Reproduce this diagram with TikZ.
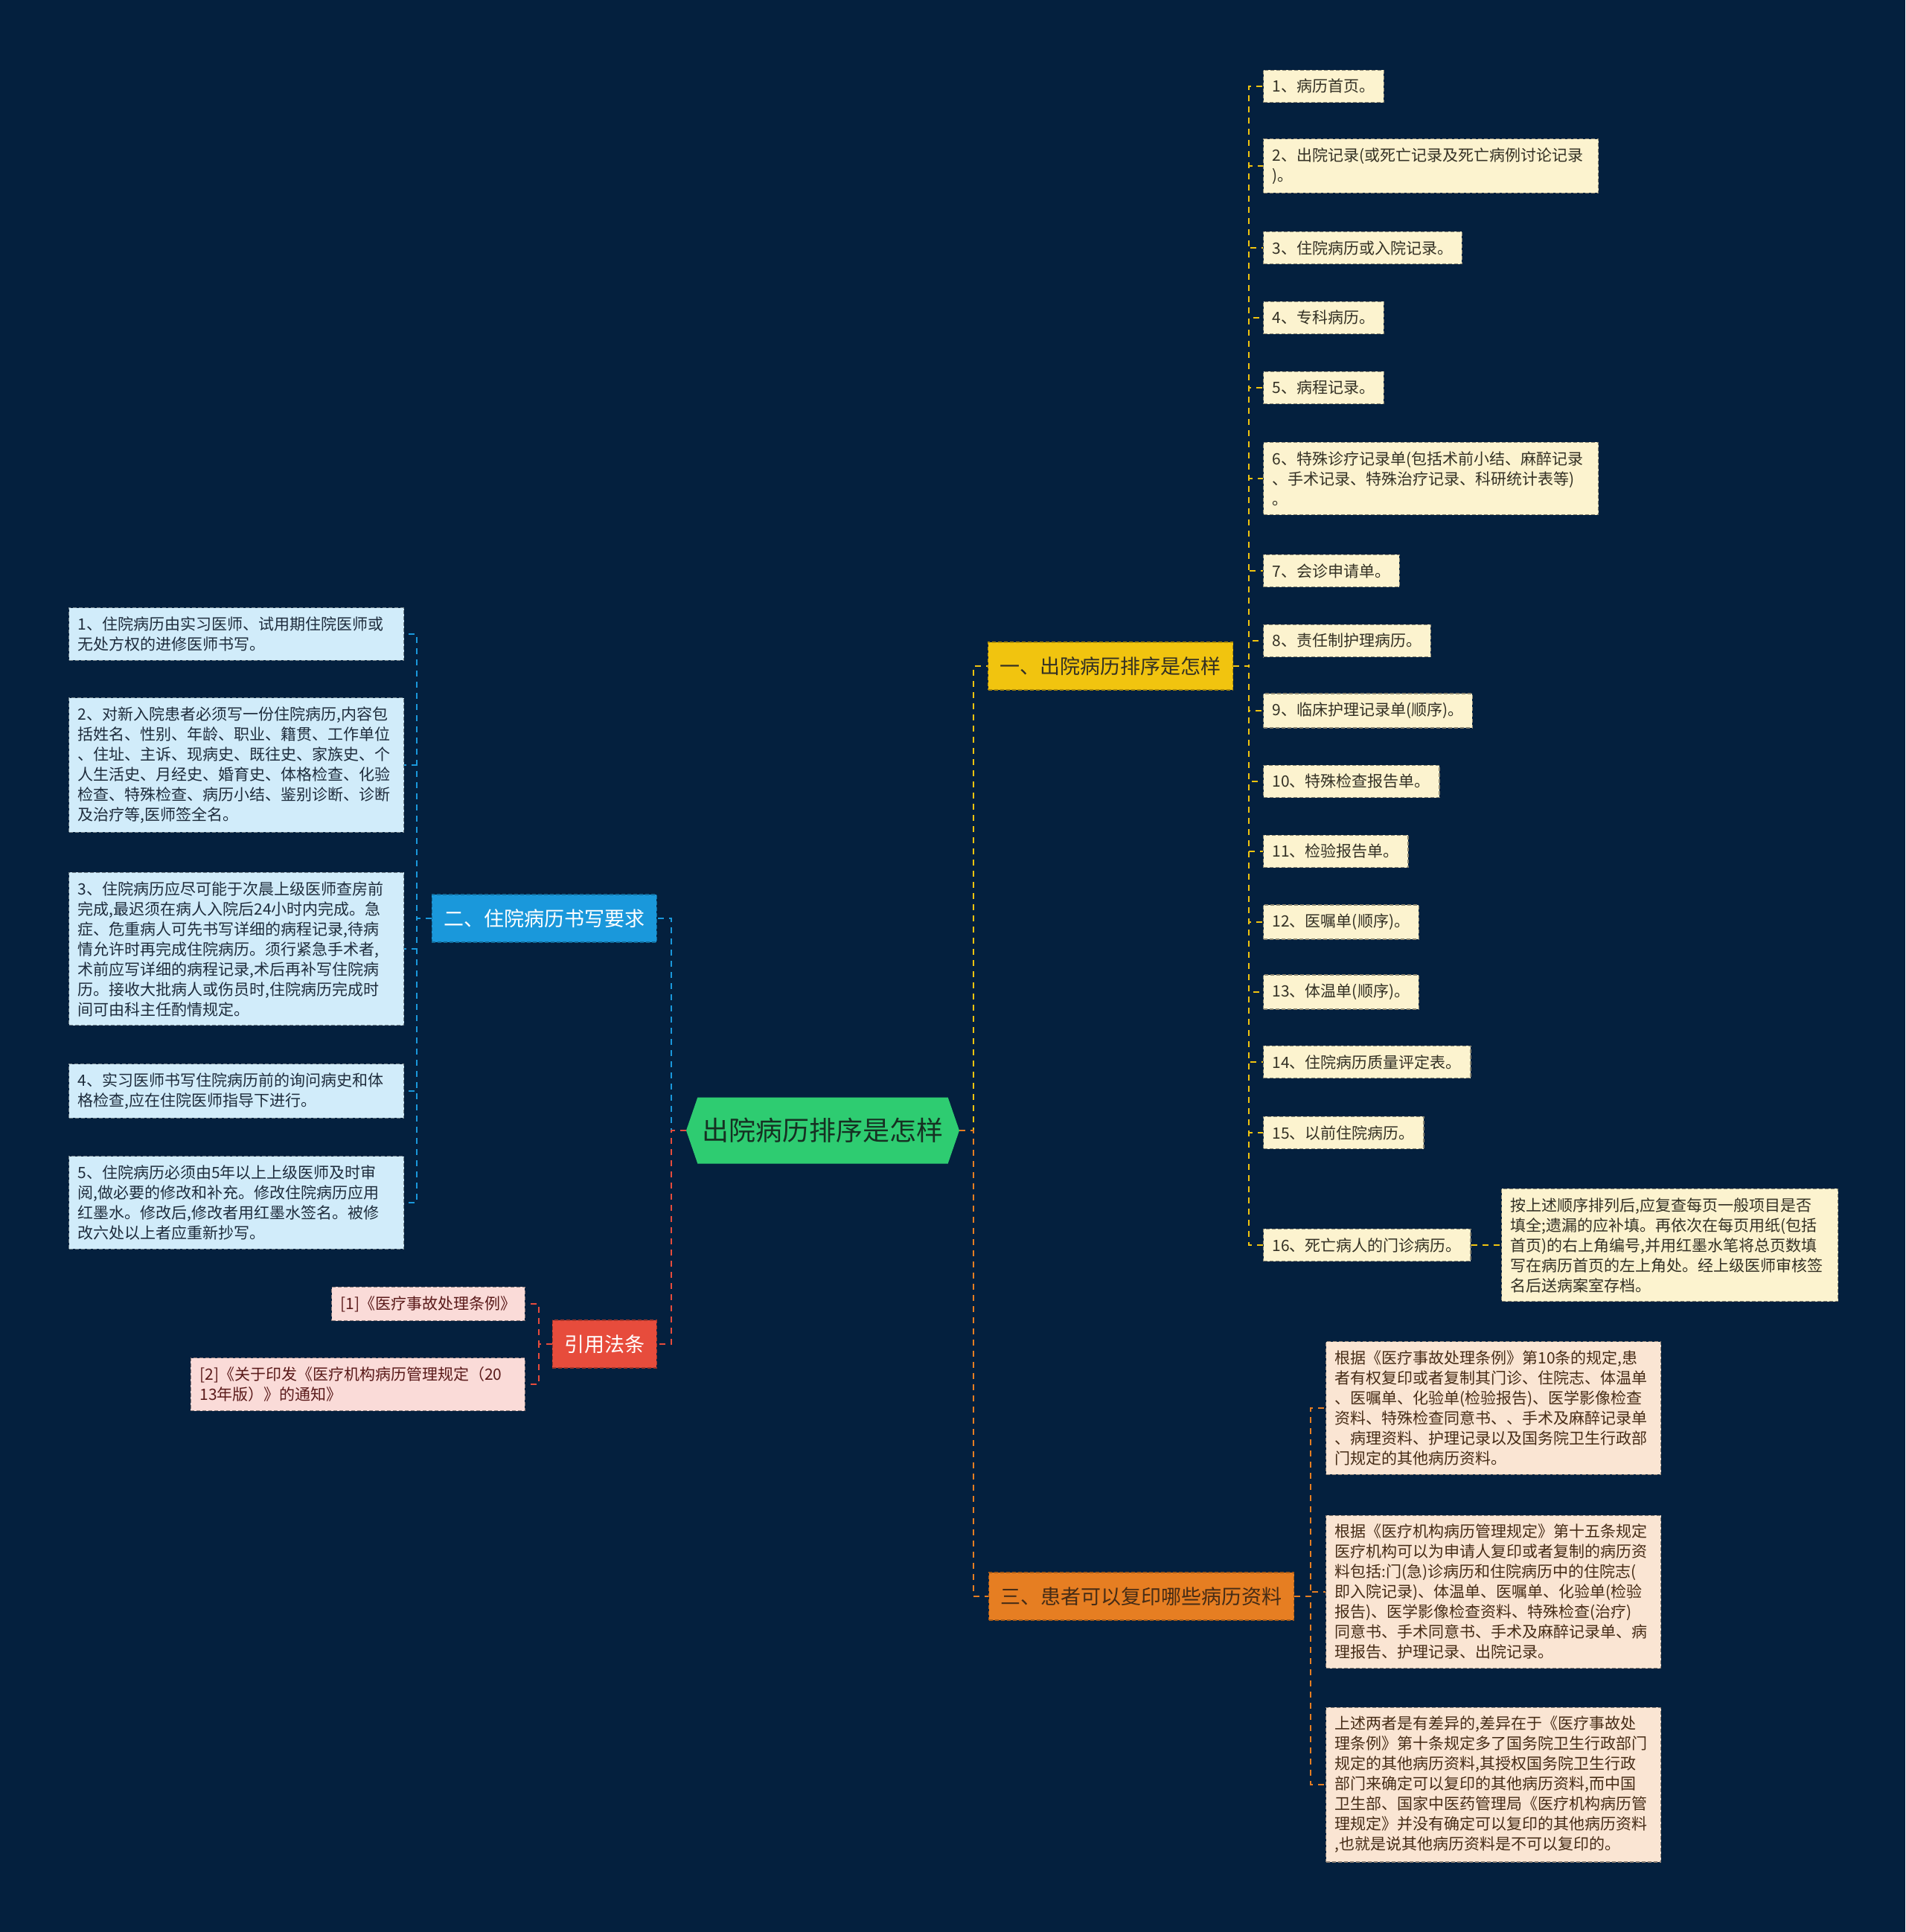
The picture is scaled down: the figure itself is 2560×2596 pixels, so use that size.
\documentclass[tikz,border=0pt]{standalone}
\usepackage{fontspec}
\setmainfont{Noto Sans CJK SC}
\usepackage{tikz}
\usetikzlibrary{positioning,calc,shapes.symbols}
\definecolor{bgnavy}{RGB}{4,32,62}
\definecolor{rootgreen}{RGB}{46,204,113}
\definecolor{rootink}{RGB}{22,48,34}
\definecolor{ygold}{RGB}{241,196,15}
\definecolor{bblue}{RGB}{26,152,219}
\definecolor{oorange}{RGB}{230,126,34}
\definecolor{rred}{RGB}{231,76,60}
\definecolor{yleaf}{RGB}{252,243,207}
\definecolor{bleaf}{RGB}{209,236,250}
\definecolor{oleaf}{RGB}{250,229,211}
\definecolor{rleaf}{RGB}{250,219,216}
\definecolor{yink}{RGB}{51,48,36}
\definecolor{bink}{RGB}{30,44,60}
\definecolor{oink}{RGB}{70,44,22}
\definecolor{rink}{RGB}{90,26,26}
\tikzset{
  root node/.style={
    shape=signal,
    signal to=west and east,
    signal pointer angle=142,
    fill=rootgreen,
    text=rootink,
    minimum width=367pt,
    minimum height=89pt,
    inner sep=0pt,
    font=\fontsize{36}{40}\selectfont
  },
  branch/.style={
    draw,
    dash pattern=on 5pt off 3pt,
    line width=1.2pt,
    minimum height=64pt,
    inner xsep=16pt,
    font=\fontsize{27}{32}\selectfont
  },
  leaf/.style={
    draw,
    dash pattern=on 5pt off 3pt,
    line width=1.2pt,
    inner xsep=12pt,
    inner ysep=12pt,
    align=left,
    font=\fontsize{21}{27}\selectfont
  },
  wide leaf/.style={leaf, text width=426pt},
  yleafbox/.style={leaf, fill=yleaf, draw=yleaf!55!black, text=yink, anchor=west},
  bleafbox/.style={wide leaf, fill=bleaf, draw=bleaf!55!black, text=bink, anchor=west},
  oleafbox/.style={wide leaf, fill=oleaf, draw=oleaf!55!black, text=oink, anchor=west},
  rleafbox/.style={leaf, fill=rleaf, draw=rleaf!55!black, text=rink, anchor=east},
  link/.style={dash pattern=on 8pt off 7pt, line width=2.5pt}
}

\begin{document}
\begin{tikzpicture}[x=1pt, y=-1pt]

  \useasboundingbox (0,0) rectangle (2560,2596);
  \fill[bgnavy] (0,0) rectangle (2560,2596);

  % Root
  \node[root node] (root) at (1105.5,1519) {出院病历排序是怎样};

  % Spines
  \coordinate (lspine) at (902,0);
  \coordinate (rspine) at (1308,0);
  \coordinate (yspine) at (1678,0);
  \coordinate (ospine) at (1761,0);
  \coordinate (bspine) at (560,0);
  \coordinate (rrspine) at (724,0);

  % Branches
  \node[branch, fill=ygold, draw=ygold!70!black, text=yink, anchor=west] (yb) at (1327,895) {一、出院病历排序是怎样};
  \node[branch, fill=bblue, draw=bblue!70!black, text=white, anchor=east] (bb) at (883,1234) {二、住院病历书写要求};
  \node[branch, fill=oorange, draw=oorange!70!black, text=oink, anchor=west] (ob) at (1328,2145) {三、患者可以复印哪些病历资料};
  \node[branch, fill=rred, draw=rred!70!black, text=white, anchor=east] (rb) at (883,1806) {引用法条};

  % Branch one: leaves
  \node[yleafbox] (y1) at (1697,116) {1、病历首页。};
  \node[yleafbox, text width=426pt] (y2) at (1697,223) {2、出院记录(或死亡记录及死亡病例讨论记录\\)。};
  \node[yleafbox] (y3) at (1697,333) {3、住院病历或入院记录。};
  \node[yleafbox] (y4) at (1697,427) {4、专科病历。};
  \node[yleafbox] (y5) at (1697,521) {5、病程记录。};
  \node[yleafbox, text width=426pt] (y6) at (1697,643) {6、特殊诊疗记录单(包括术前小结、麻醉记录\\、手术记录、特殊治疗记录、科研统计表等)\\。};
  \node[yleafbox] (y7) at (1697,767) {7、会诊申请单。};
  \node[yleafbox] (y8) at (1697,861) {8、责任制护理病历。};
  \node[yleafbox] (y9) at (1697,955) {9、临床护理记录单(顺序)。};
  \node[yleafbox] (y10) at (1697,1050) {10、特殊检查报告单。};
  \node[yleafbox] (y11) at (1697,1144) {11、检验报告单。};
  \node[yleafbox] (y12) at (1697,1239) {12、医嘱单(顺序)。};
  \node[yleafbox] (y13) at (1697,1333) {13、体温单(顺序)。};
  \node[yleafbox] (y14) at (1697,1427) {14、住院病历质量评定表。};
  \node[yleafbox] (y15) at (1697,1522) {15、以前住院病历。};
  \node[yleafbox] (y16) at (1697,1673) {16、死亡病人的门诊病历。};
  \node[yleafbox, text width=428pt] (ynote) at (2017,1673) {按上述顺序排列后,应复查每页一般项目是否\\填全;遗漏的应补填。再依次在每页用纸(包括\\首页)的右上角编号,并用红墨水笔将总页数填\\写在病历首页的左上角处。经上级医师审核签\\名后送病案室存档。};

  % Branch two: leaves
  \node[bleafbox] (b1) at (92,852) {1、住院病历由实习医师、试用期住院医师或\\无处方权的进修医师书写。};
  \node[bleafbox] (b2) at (92,1028) {2、对新入院患者必须写一份住院病历,内容包\\括姓名、性别、年龄、职业、籍贯、工作单位\\、住址、主诉、现病史、既往史、家族史、个\\人生活史、月经史、婚育史、体格检查、化验\\检查、特殊检查、病历小结、鉴别诊断、诊断\\及治疗等,医师签全名。};
  \node[bleafbox] (b3) at (92,1275) {3、住院病历应尽可能于次晨上级医师查房前\\完成,最迟须在病人入院后24小时内完成。急\\症、危重病人可先书写详细的病程记录,待病\\情允许时再完成住院病历。须行紧急手术者,\\术前应写详细的病程记录,术后再补写住院病\\历。接收大批病人或伤员时,住院病历完成时\\间可由科主任酌情规定。};
  \node[bleafbox] (b4) at (92,1466) {4、实习医师书写住院病历前的询问病史和体\\格检查,应在住院医师指导下进行。};
  \node[bleafbox] (b5) at (92,1616) {5、住院病历必须由5年以上上级医师及时审\\阅,做必要的修改和补充。修改住院病历应用\\红墨水。修改后,修改者用红墨水签名。被修\\改六处以上者应重新抄写。};

  % Branch three: leaves
  \node[oleafbox] (o1) at (1781,1892) {根据《医疗事故处理条例》第10条的规定,患\\者有权复印或者复制其门诊、住院志、体温单\\、医嘱单、化验单(检验报告)、医学影像检查\\资料、特殊检查同意书、、手术及麻醉记录单\\、病理资料、护理记录以及国务院卫生行政部\\门规定的其他病历资料。};
  \node[oleafbox] (o2) at (1781,2139) {根据《医疗机构病历管理规定》第十五条规定\\医疗机构可以为申请人复印或者复制的病历资\\料包括:门(急)诊病历和住院病历中的住院志(\\即入院记录)、体温单、医嘱单、化验单(检验\\报告)、医学影像检查资料、特殊检查(治疗)\\同意书、手术同意书、手术及麻醉记录单、病\\理报告、护理记录、出院记录。};
  \node[oleafbox] (o3) at (1781,2398) {上述两者是有差异的,差异在于《医疗事故处\\理条例》第十条规定多了国务院卫生行政部门\\规定的其他病历资料,其授权国务院卫生行政\\部门来确定可以复印的其他病历资料,而中国\\卫生部、国家中医药管理局《医疗机构病历管\\理规定》并没有确定可以复印的其他病历资料\\,也就是说其他病历资料是不可以复印的。};

  % Cited laws
  \node[rleafbox] (r1) at (706,1752) {[1]《医疗事故处理条例》};
  \node[rleafbox, text width=425pt] (r2) at (706,1860) {[2]《关于印发《医疗机构病历管理规定（20\\13年版）》的通知》};

  % Connections
  \draw[link, ygold] (root.east) -- (rspine |- root.east) |- (yb.west);
  \draw[link, oorange] (root.east) -- (rspine |- root.east) |- (ob.west);
  \draw[link, bblue] (root.west) -- (lspine |- root.west) |- (bb.east);
  \draw[link, rred] (root.west) -- (lspine |- root.west) |- (rb.east);
  \foreach \n in {1,...,16}
    \draw[link, ygold] (yb.east) -- (yspine |- yb.east) |- (y\n.west);
  \draw[link, ygold] (y16.east) -- (ynote.west);
  \foreach \n in {1,...,5}
    \draw[link, bblue] (bb.west) -- (bspine |- bb.west) |- (b\n.east);
  \foreach \n in {1,2,3}
    \draw[link, oorange] (ob.east) -- (ospine |- ob.east) |- (o\n.west);
  \foreach \n in {1,2}
    \draw[link, rred] (rb.west) -- (rrspine |- rb.west) |- (r\n.east);

\end{tikzpicture}
\end{document}
